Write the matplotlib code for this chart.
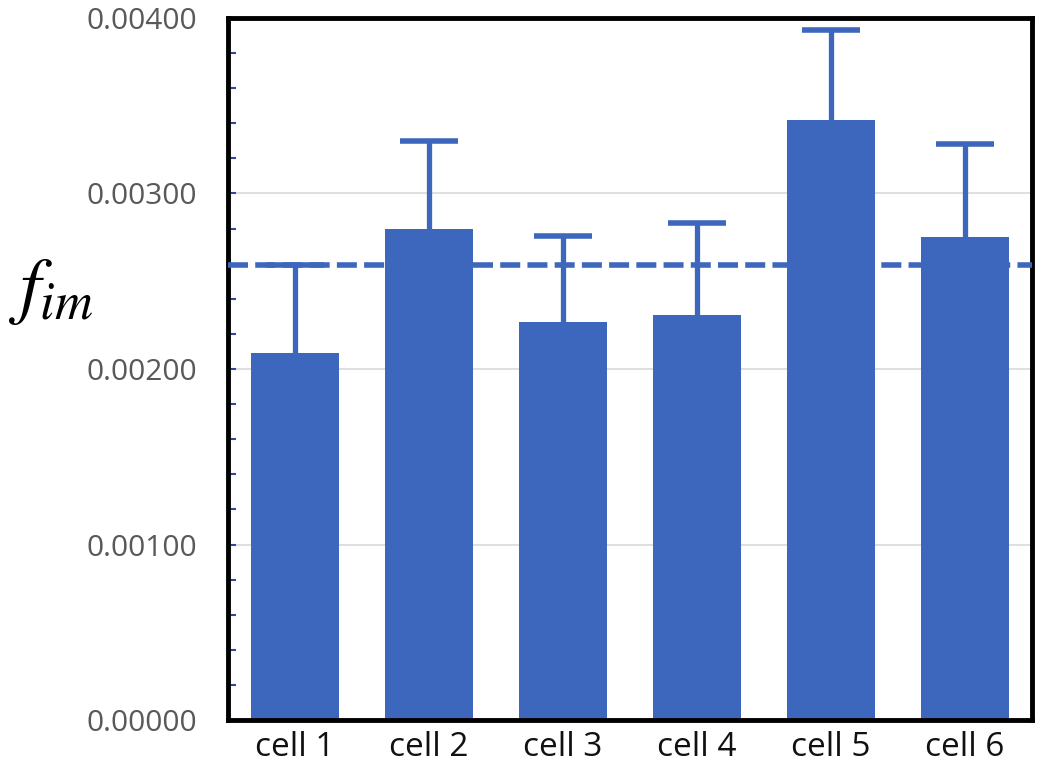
import matplotlib.pyplot as plt
import numpy as np

# values
cells = ["cell 1", "cell 2", "cell 3", "cell 4", "cell 5", "cell 6"]
f_im = [0.00209, 0.00280, 0.00227, 0.00231, 0.00342, 0.00275]
f_im_err = [0.00050, 0.00050, 0.00049, 0.00052, 0.00051, 0.00053]
mean_line = 0.00259

bar_color = "#3d67bc"

plt.rcParams["font.family"] = ["Open Sans", "DejaVu Sans"]
plt.rcParams["mathtext.fontset"] = "stix"

fig = plt.figure(figsize=(10.5, 7.76), dpi=100)
ax = fig.add_axes([0.217, 0.072, 0.766, 0.905])

x = np.arange(len(cells))
ax.bar(x, f_im, width=0.66, color=bar_color, zorder=2)
# only the upper half of each error bar is shown
eb = ax.errorbar(x, f_im, yerr=[np.zeros(len(f_im)), f_im_err], fmt="none",
                 ecolor=bar_color, elinewidth=3.8, capsize=21, capthick=4, zorder=2)
eb[1][0].set_visible(False)  # hide the lower cap

# dashed overall level
ax.axhline(mean_line, color=bar_color, lw=4, dashes=(3.6, 1.3), zorder=3)

ax.set_xlim(-0.5, 5.5)
ax.set_ylim(0, 0.004)
ax.set_yticks([0, 0.001, 0.002, 0.003, 0.004])
ax.set_yticklabels(["0.00000", "0.00100", "0.00200", "0.00300", "0.00400"])
ax.set_yticks(np.arange(0, 0.0041, 0.0002), minor=True)
ax.set_xticks(x)
ax.set_xticklabels(cells)

ax.grid(axis="y", color="#d9d9d9", lw=1.2, zorder=0)
for s in ax.spines.values():
    s.set_linewidth(3.5)
    s.set_color("black")

ax.tick_params(axis="y", which="both", direction="in", length=6, width=1.5,
               color="#2a4a9a", labelsize=21.5, labelcolor="#595959", pad=22)
ax.tick_params(axis="x", length=0, labelsize=24, labelcolor="#111111", pad=8)

fig.text(0.048, 0.626, "$f_{im}$", fontsize=54, ha="center", va="center")

fig.savefig("out.png", dpi=100)
